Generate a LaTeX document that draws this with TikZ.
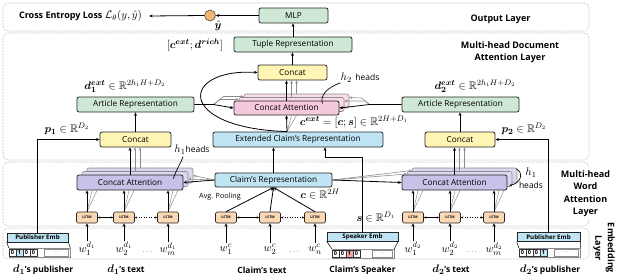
\documentclass[tikz,border=0pt]{standalone}
\usepackage{amsmath,amssymb,bm}
\usepackage{fontspec}
\setsansfont{Open Sans}
\usetikzlibrary{arrows.meta,calc}
\definecolor{cgreen}{HTML}{CFE8D6}
\definecolor{cyellow}{HTML}{FFF5B5}
\definecolor{cpink}{HTML}{F6C8DD}
\definecolor{cpinkb}{HTML}{F9DCE8}
\definecolor{cblue}{HTML}{BFE4F4}
\definecolor{cpurple}{HTML}{C8C2E8}
\definecolor{cpurpleb}{HTML}{DCD8F0}
\definecolor{corange}{HTML}{FAD9B4}
\definecolor{cdot}{HTML}{F4B66C}
\definecolor{cred}{HTML}{F2A89E}
\definecolor{clayer}{HTML}{C8C8C8}
\definecolor{cgray}{HTML}{8C8C8C}
\begin{document}
\begin{tikzpicture}[x=1pt,y=-1pt,
  nbox/.style={draw=black!85, line width=0.8pt, rounded corners=2pt, inner sep=0pt, font=\sffamily\fontsize{8.2}{9}\selectfont},
  greenbox/.style={nbox, fill=cgreen},
  yellowbox/.style={nbox, fill=cyellow},
  bluebox/.style={nbox, fill=cblue},
  pinkbox/.style={nbox, fill=cpink},
  pinkback/.style={draw=cgray, line width=0.6pt, rounded corners=2pt, fill=cpinkb, inner sep=0pt},
  purplebox/.style={nbox, fill=cpurple},
  purpleback/.style={draw=cgray, line width=0.6pt, rounded corners=2pt, fill=cpurpleb, inner sep=0pt},
  lstmbox/.style={draw=black!85, line width=0.6pt, rounded corners=1.5pt, fill=corange, minimum width=21pt, minimum height=11pt, inner sep=0pt, font=\sffamily\bfseries\fontsize{3.5}{4}\selectfont},
  arrowline/.style={-{Stealth[length=3.5pt,width=3pt]}, line width=0.8pt},
  grayarrow/.style={-{Stealth[length=3pt,width=2.6pt]}, line width=0.6pt, draw=cgray},
  grayline/.style={line width=0.5pt, draw=cgray},
  lstmarrow/.style={{Stealth[length=2.5pt,width=2.2pt]}-{Stealth[length=2.5pt,width=2.2pt]}, line width=0.5pt},
  layerbox/.style={draw=clayer, dash pattern=on 2pt off 1pt, rounded corners=5pt, line width=0.6pt},
  mathlbl/.style={inner sep=0pt, font=\fontsize{11}{13}\selectfont},
  wordlbl/.style={inner sep=1pt, font=\fontsize{11}{13}\selectfont},
  boldlbl/.style={inner sep=0pt, font=\sffamily\bfseries\fontsize{8.5}{10.5}\selectfont, align=center},
  layerlbl/.style={inner sep=0pt, font=\sffamily\bfseries\fontsize{9}{12.5}\selectfont, align=center},
  embhead/.style={draw=black!85, line width=0.6pt, fill=cblue, inner sep=0pt, minimum height=9pt, font=\sffamily\bfseries\fontsize{6.2}{7}\selectfont},
  onecell/.style={draw=black!80, line width=0.5pt, minimum width=7pt, minimum height=7pt, inner sep=0pt, font=\sffamily\bfseries\fontsize{5.5}{6}\selectfont},
  dotcell/.style={draw=cgray, line width=0.5pt, minimum height=7pt, inner sep=0pt, font=\sffamily\fontsize{5}{6}\selectfont, text=cgray},
  vecbox/.style={draw=cgray, line width=0.5pt, minimum height=9pt, inner sep=0pt},
]
\useasboundingbox (0,0) rectangle (628,279);
% layers
\draw[layerbox] (3,3) rectangle (589,31);
\draw[layerbox] (3,33) rectangle (589,160);
\draw[layerbox] (3,162) rectangle (589,226);
\draw[layerbox] (3,228) rectangle (589,259);

% output layer
\node[greenbox, minimum width=69pt, minimum height=15pt] (mlp) at (293.5,15.5) {MLP};
\node[circle, fill=cdot, draw=black!70, line width=0.6pt, minimum size=11pt, inner sep=0pt] (yh) at (210,15.5) {};
\node[mathlbl] (yhl) at (218,26) {$\hat{\bm{y}}$};
\node[inner xsep=7pt, inner ysep=0pt] (loss) at (80.5,16) {\sffamily\bfseries\fontsize{9}{10}\selectfont Cross Entropy Loss \fontsize{11}{13}\selectfont$\mathcal{L}_\theta(y,\hat{y})$};
\node[layerlbl] (outl) at (500.5,19) {Output Layer};

% document attention layer
\node[layerlbl] (docl) at (510,52) {Multi-head Document\\Attention Layer};
\node[greenbox, minimum width=118pt, minimum height=15pt] (tu) at (293,44.5) {Tuple Representation};
\node[mathlbl] (tul) at (195,45) {$[\bm{c}^{\bm{ext}};\bm{d}^{\bm{rich}}]$};
\node[yellowbox, minimum width=69pt, minimum height=15pt] (ct) at (292.5,72.5) {Concat};
\node[pinkback, minimum width=105pt, minimum height=14pt] (pk2) at (296.5,101) {};
\node[pinkback, minimum width=105pt, minimum height=14pt] (pk1) at (291.5,104.5) {};
\node[pinkbox, minimum width=105pt, minimum height=14pt] (pk) at (286.5,108) {Concat Attention};
\node[mathlbl] (h2l) at (360,78) {$h_2$ \sffamily\fontsize{8.5}{10}\selectfont heads};
\node[bluebox, minimum width=170pt, minimum height=15pt] (ext) at (298,139.5) {Extended Claim's Representation};
\node[mathlbl] (extl) at (354,122) {$\bm{c}^{\bm{ext}}=[\bm{c};\bm{s}]\in\mathbb{R}^{2H+D_1}$};
\node[greenbox, minimum width=117pt, minimum height=15pt] (a1) at (135.5,104.5) {Article Representation};
\node[greenbox, minimum width=117pt, minimum height=15pt] (a2) at (460.5,104.5) {Article Representation};
\node[mathlbl] (a1l) at (125,86) {$\bm{d}_{\bm 1}^{\bm{ext}}\in\mathbb{R}^{2h_1H+D_2}$};
\node[mathlbl] (a2l) at (475,86) {$\bm{d}_{\bm 2}^{\bm{ext}}\in\mathbb{R}^{2h_1H+D_2}$};
\node[yellowbox, minimum width=71pt, minimum height=15pt] (cc1) at (135.5,139.5) {Concat};
\node[yellowbox, minimum width=70pt, minimum height=15pt] (cc2) at (460,139.5) {Concat};
\node[mathlbl] (p1l) at (67,129) {$\bm{p}_{\bm 1}\in\mathbb{R}^{D_2}$};
\node[mathlbl] (p2l) at (524,129) {$\bm{p}_{\bm 2}\in\mathbb{R}^{D_2}$};

% word attention layer
\node[purpleback, minimum width=106pt, minimum height=15pt] (cb12) at (140,175.5) {};
\node[purpleback, minimum width=106pt, minimum height=15pt] (cb11) at (135,179) {};
\node[purplebox, minimum width=106pt, minimum height=15pt] (ca1) at (130,182.5) {Concat Attention};
\node[purpleback, minimum width=105pt, minimum height=15pt] (cb22) at (464.5,175.5) {};
\node[purpleback, minimum width=105pt, minimum height=15pt] (cb21) at (459.5,179) {};
\node[purplebox, minimum width=105pt, minimum height=15pt] (ca2) at (454.5,182.5) {Concat Attention};
\node[bluebox, minimum width=117pt, minimum height=14pt] (cl) at (273.5,180) {Claim's Representation};
\node[inner sep=0pt, font=\sffamily\fontsize{7.2}{8}\selectfont] (avg) at (220,197) {Avg. Pooling};
\node[mathlbl] (cll) at (320,194) {$\bm{c}\in\mathbb{R}^{2H}$};
\node[mathlbl] (sl) at (376,217) {$\bm{s}\in\mathbb{R}^{D_1}$};
\node[mathlbl] (h1al) at (192,150) {$h_1$\sffamily\fontsize{8.5}{10}\selectfont heads};
\node[mathlbl] (h1bl) at (531,173) {$h_1$};
\node[inner sep=0pt, font=\sffamily\fontsize{8.5}{10}\selectfont] (h1bh) at (531,185) {heads};
\node[layerlbl, fill=white, inner sep=1pt] (wl) at (585.5,193.5) {Multi-head\\Word\\Attention\\Layer};

% LSTMs
\node[lstmbox] (l11) at (87,217.5) {LSTM};
\node[lstmbox] (l12) at (124,217.5) {LSTM};
\node[lstmbox] (l13) at (168,217.5) {LSTM};
\node[lstmbox] (lc1) at (226,217.5) {LSTM};
\node[lstmbox] (lc2) at (270,217.5) {LSTM};
\node[lstmbox] (lc3) at (315,217.5) {LSTM};
\node[lstmbox] (l21) at (413,217.5) {LSTM};
\node[lstmbox] (l22) at (450,217.5) {LSTM};
\node[lstmbox] (l23) at (494,217.5) {LSTM};

% words
\node[wordlbl] (w11) at (87,249) {$w_1^{d_1}$};
\node[wordlbl] (w12) at (124,249) {$w_2^{d_1}$};
\node[inner sep=0pt, font=\fontsize{7}{8}\selectfont] (dd1) at (148,252) {$\cdots$};
\node[wordlbl] (w13) at (168,249) {$w_m^{d_1}$};
\node[wordlbl] (wc1) at (226,249) {$w_1^{c}$};
\node[wordlbl] (wc2) at (270,249) {$w_2^{c}$};
\node[inner sep=0pt, font=\fontsize{7}{8}\selectfont] (ddc) at (295,252) {$\cdots$};
\node[wordlbl] (wc3) at (315,249) {$w_n^{c}$};
\node[wordlbl] (w21) at (413,249) {$w_1^{d_2}$};
\node[wordlbl] (w22) at (450,249) {$w_2^{d_2}$};
\node[inner sep=0pt, font=\fontsize{7}{8}\selectfont] (dd2) at (473,252) {$\cdots$};
\node[wordlbl] (w23) at (494,249) {$w_m^{d_2}$};

% embeddings
\node[embhead, minimum width=61pt] (pe1) at (37.5,237.5) {Publisher Emb};
\node[vecbox, minimum width=61pt] (v1) at (39.5,252.5) {};
\node[onecell] (v1a) at (12.5,252.5) {0};
\node[onecell, fill=cblue] (v1b) at (19.5,252.5) {1};
\node[onecell] (v1c) at (26.5,252.5) {0};
\node[onecell] (v1d) at (33.5,252.5) {0};
\node[dotcell, minimum width=24pt] (v1e) at (56,252.5) {...};
\draw[line width=0.5pt] (pe1.south west) -- (v1.north west);
\draw[line width=0.5pt] (pe1.south east) -- (v1.north east);

\node[embhead, minimum width=71pt] (se) at (362.5,236.5) {Speaker Emb};
\node[vecbox, minimum width=62pt] (v2) at (363,253.5) {};
\node[onecell] (v2a) at (335.5,253.5) {0};
\node[onecell] (v2b) at (342.5,253.5) {0};
\node[onecell, fill=cred] (v2c) at (349.5,253.5) {1};
\node[onecell] (v2d) at (356.5,253.5) {0};
\node[dotcell, minimum width=20pt] (v2e) at (382.5,253.5) {...};
\draw[line width=0.5pt] (se.south west) -- (v2.north west);
\draw[line width=0.5pt] (se.south east) -- (v2.north east);

\node[embhead, minimum width=63pt] (pe2) at (548.5,237) {Publisher Emb};
\node[vecbox, minimum width=61pt] (v3) at (549.5,252.5) {};
\node[onecell] (v3a) at (522.5,252.5) {0};
\node[onecell] (v3b) at (529.5,252.5) {0};
\node[onecell] (v3c) at (536.5,252.5) {0};
\node[onecell, fill=cblue] (v3d) at (543.5,252.5) {1};
\node[dotcell, minimum width=24pt] (v3e) at (566,252.5) {...};
\draw[line width=0.5pt] (pe2.south west) -- (v3.north west);
\draw[line width=0.5pt] (pe2.south east) -- (v3.north east);

% bottom labels
\node[boldlbl] (b1) at (43,270) {{\fontsize{11}{13}\selectfont$\bm{d}_{\bm 1}$}'s publisher};
\node[boldlbl] (b2) at (126,270) {{\fontsize{11}{13}\selectfont$\bm{d}_{\bm 1}$}'s text};
\node[boldlbl] (b3) at (262,270) {Claim's text};
\node[boldlbl] (b4) at (362.5,270) {Claim's Speaker};
\node[boldlbl] (b5) at (451,270) {{\fontsize{11}{13}\selectfont$\bm{d}_{\bm 2}$}'s text};
\node[boldlbl] (b6) at (550,270) {{\fontsize{11}{13}\selectfont$\bm{d}_{\bm 2}$}'s publisher};
\node[layerlbl, rotate=-90] (el) at (604,248) {Embedding\\Layer};

% ---- connectors ----
\draw[arrowline] (tu.north) -- (tu.north |- mlp.south);
\draw[arrowline] (mlp.west) -- (yh.east);
\draw[arrowline] (yh.west) -- (loss.east);
\draw[arrowline] (ct.north) -- (ct.north |- tu.south);
\draw[arrowline] (pk.north) -- (pk.north |- ct.south);
\draw[grayarrow] (pk1.north) -- (pk1.north |- ct.south);
\draw[grayarrow] (pk2.north) -- (pk2.north |- ct.south);
\coordinate (ef) at ([xshift=-11pt]ext.north);
\draw[grayline] (ef) -- ($(pk.south)+(5,0)$);
\draw[grayline] (ef) -- ($(pk.south)+(10,0)$);
\draw[arrowline] (ef) -- (pk.south);
\draw[arrowline] (ef) .. controls (175,128) and (180,68) .. (ct.west);
\coordinate (fa) at ([xshift=19pt]a1.east);
\draw[grayarrow] (fa) -- ++(7,-5) -- ([yshift=5pt]pk1.west);
\draw[grayarrow] (fa) -- ++(10,-8) -- ([yshift=4.5pt]pk2.west);
\draw[arrowline] (a1.east) -- (fa) -- (pk.west);
\coordinate (fb) at ([xshift=-32pt]a2.west);
\draw[grayarrow] (fb) -- ++(-5,-3.5) -- ([yshift=3.5pt]pk1.east);
\draw[grayarrow] (fb) -- ++(-8,-6.5) -- ([yshift=3.5pt]pk2.east);
\draw[arrowline] (a2.west) -- (fb) -- (pk.east);
\draw[arrowline] (cl.north) -- (cl.north |- ext.south);
\coordinate (sk) at (325,157);
\draw[arrowline] (se.north) |- (sk) -- (sk |- ext.south);
\draw[arrowline] (cc1.north) -- (cc1.north |- a1.south);
\draw[arrowline] (cc2.north) -- (cc2.north |- a2.south);
\draw[arrowline] (pe1.north) |- (cc1.west);
\draw[arrowline] (pe2.north) |- (cc2.east);

\draw[arrowline] (ca1.north) -- (ca1.north |- cc1.south);
\draw[grayarrow] (cb11.north) -- (cb11.north |- cc1.south);
\draw[grayarrow] (cb12.north) -- (cb12.north |- cc1.south);
\draw[arrowline] (ca2.north) -- (ca2.north |- cc2.south);
\draw[grayarrow] (cb21.north) -- (cb21.north |- cc2.south);
\draw[grayarrow] (cb22.north) -- (cb22.north |- cc2.south);
\draw[grayarrow] (cl.west) -- (cb11.east);
\draw[grayarrow] (cl.west) -- (cb12.east);
\draw[arrowline] (cl.west) -- (ca1.east);
\draw[grayarrow] (cl.east) -- ([yshift=5pt]cb21.west);
\draw[grayarrow] (cl.east) -- ([yshift=5pt]cb22.west);
\draw[arrowline] (cl.east) -- (ca2.west);

\foreach \l/\c in {l11/ca1,l12/ca1,l13/ca1,l21/ca2,l22/ca2,l23/ca2}{
  \draw[grayline] (\l.north) -- ($(\l.north |- \c.south)+(5,0)$);
  \draw[grayline] (\l.north) -- ($(\l.north |- \c.south)+(10,0)$);
  \draw[arrowline] (\l.north) -- (\l.north |- \c.south);
}
\foreach \l in {lc1,lc2,lc3}{\draw[arrowline] (\l.north) -- (cl.south);}
\foreach \w/\l in {w11/l11,w12/l12,w13/l13,wc1/lc1,wc2/lc2,wc3/lc3,w21/l21,w22/l22,w23/l23}{
  \draw[arrowline] (\w.north) -- (\w.north |- \l.south);
}
\draw[lstmarrow] (l11.east) -- (l12.west);
\draw[lstmarrow, dotted] (l12.east) -- (l13.west);
\draw[lstmarrow] (lc1.east) -- (lc2.west);
\draw[lstmarrow, dotted] (lc2.east) -- (lc3.west);
\draw[lstmarrow] (l21.east) -- (l22.west);
\draw[lstmarrow, dotted] (l22.east) -- (l23.west);

% heads curves
\draw[line width=0.7pt] (h2l.south west) .. controls (326,88) and (320,96) .. ($(pk.north east)+(-17,3)$);
\draw[line width=0.7pt] ($(h1al.south)+(-9,2)$) .. controls (180,165) and (176,170) .. ($(ca1.north east)+(-10,4)$);
\draw[-{Stealth[length=2.5pt,width=2.2pt]}, line width=0.7pt] ($(cb22.north east)+(-1,1)$) .. controls (524,173) and (521,183) .. ($(ca2.east)+(2,3)$);
\end{tikzpicture}
\end{document}
